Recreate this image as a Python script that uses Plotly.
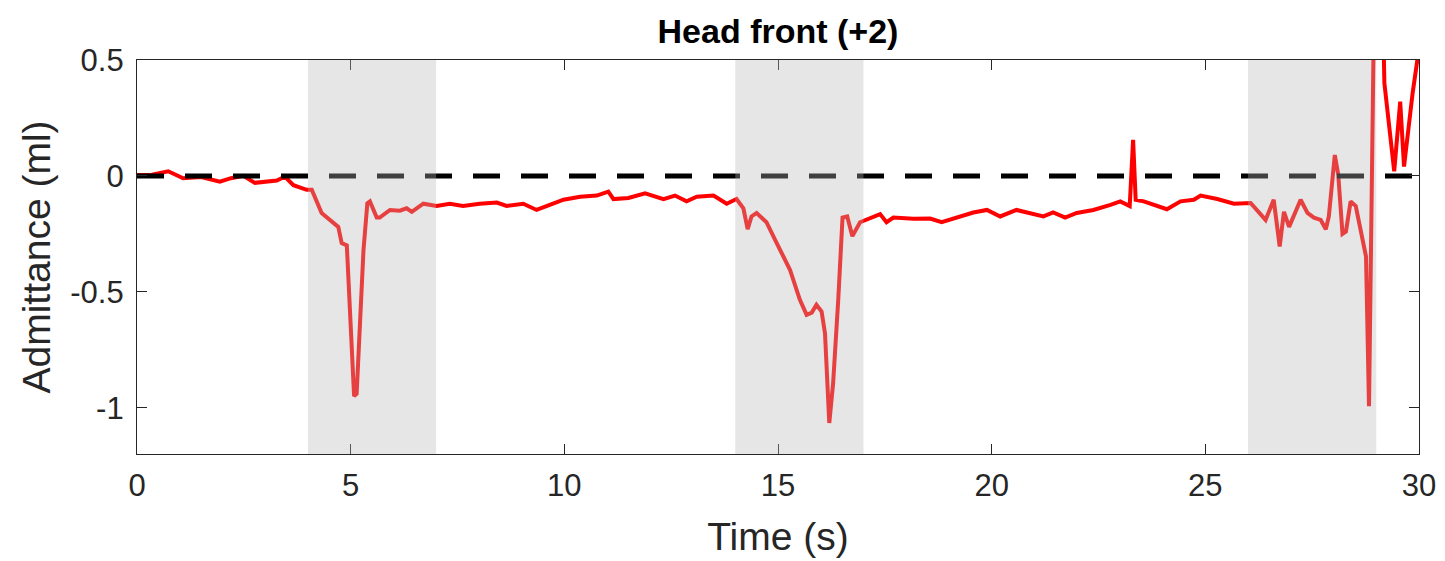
import plotly.graph_objects as go

time_s = [0, 0.35, 0.73, 1.08, 1.5, 1.94, 2.2, 2.49, 2.76, 3.0,
          3.27, 3.46, 3.66, 3.97, 4.09, 4.32, 4.52, 4.71, 4.79, 4.91,
          5.08, 5.14, 5.30, 5.39, 5.45, 5.61, 5.68, 5.92, 6.15, 6.31,
          6.43, 6.70, 7.01, 7.32, 7.63, 8.02, 8.42, 8.65, 9.04, 9.35,
          9.66, 9.98, 10.37, 10.76, 11.03, 11.15, 11.50, 11.89, 12.32, 12.59,
          12.86, 13.10, 13.49, 13.80, 14.03, 14.19, 14.29, 14.38, 14.50, 14.73,
          14.97, 15.28, 15.51, 15.67, 15.79, 15.90, 16.02, 16.10, 16.20, 16.29,
          16.41, 16.51, 16.62, 16.74, 16.92, 17.23, 17.39, 17.54, 17.70, 18.17,
          18.56, 18.83, 19.10, 19.57, 19.89, 20.20, 20.58, 21.21, 21.44, 21.72,
          21.99, 22.38, 22.78, 23.01, 23.23, 23.31, 23.37, 23.56, 24.10, 24.42,
          24.73, 24.89, 25.28, 25.67, 26.06, 26.21, 26.41, 26.60, 26.74, 26.84,
          26.96, 27.23, 27.39, 27.54, 27.70, 27.82, 27.89, 28.03, 28.11, 28.21,
          28.29, 28.40, 28.52, 28.76, 28.83, 28.95, 29.15, 29.19, 29.42, 29.56,
          29.65, 29.85, 30.0]

admittance = [0.004, 0.005, 0.02, -0.01, -0.005, -0.025, -0.01, 0.0, -0.03, -0.025,
              -0.02, -0.003, -0.04, -0.06, -0.06, -0.16, -0.19, -0.22, -0.29, -0.30,
              -0.95, -0.94, -0.32, -0.118, -0.11, -0.18, -0.18, -0.147, -0.15, -0.14,
              -0.155, -0.12, -0.13, -0.12, -0.13, -0.12, -0.115, -0.13, -0.12, -0.147,
              -0.125, -0.103, -0.09, -0.085, -0.068, -0.1, -0.095, -0.075, -0.1, -0.085,
              -0.11, -0.09, -0.085, -0.12, -0.1, -0.14, -0.23, -0.175, -0.16, -0.20,
              -0.29, -0.405, -0.534, -0.60, -0.59, -0.556, -0.585, -0.68, -1.066, -0.894,
              -0.534, -0.18, -0.175, -0.26, -0.20, -0.175, -0.165, -0.20, -0.18, -0.185,
              -0.184, -0.20, -0.184, -0.158, -0.147, -0.175, -0.147, -0.175, -0.158, -0.18,
              -0.16, -0.147, -0.125, -0.11, -0.13, 0.155, -0.103, -0.11, -0.144, -0.11,
              -0.103, -0.085, -0.1, -0.12, -0.117, -0.147, -0.19, -0.103, -0.305, -0.155,
              -0.22, -0.103, -0.16, -0.18, -0.19, -0.23, -0.175, 0.09, 0.006, -0.25,
              -0.24, -0.11, -0.13, -0.348, -0.994, 0.75, 0.75, 0.40, 0.02, 0.32,
              0.04, 0.356, 0.55]

baseline_x = [0, 30]
baseline_y = [0, 0]

stim_start = [4, 14, 26]
stim_end = [7, 17, 29]

x_ticks = [0, 5, 10, 15, 20, 25, 30]
y_ticks = [-1, -0.5, 0, 0.5]
y_tick_labels = ["-1", "-0.5", "0", "0.5"]

FONT = "Liberation Sans, Arial, Helvetica, sans-serif"
AX = "#262626"

fig = go.Figure()
fig.add_trace(go.Scatter(x=time_s, y=admittance, mode="lines",
                         line=dict(color="#ff0000", width=4), showlegend=False))
fig.add_trace(go.Scatter(x=baseline_x, y=baseline_y, mode="lines",
                         line=dict(color="#000000", width=5, dash="27px,21px"),
                         showlegend=False))

for s, e in zip(stim_start, stim_end):
    fig.add_shape(type="rect", xref="x", yref="y", x0=s, x1=e, y0=-1.2, y1=0.5,
                  fillcolor="rgba(183,183,183,0.35)", line=dict(width=0),
                  layer="above")

fig.update_layout(
    width=1445, height=561,
    margin=dict(l=129, r=34, t=52, b=115),
    plot_bgcolor="white", paper_bgcolor="white",
    font=dict(family=FONT, color=AX),
    title=dict(text="<b>Head front (+2)</b>", x=0.5, xref="paper",
               y=1, yref="paper", yanchor="bottom", pad=dict(b=17),
               font=dict(size=34, color="#000000", family=FONT)),
    xaxis=dict(range=[0, 30], tickvals=x_ticks, ticks="inside", ticklen=10,
               tickwidth=1, tickcolor=AX, showline=True, linecolor=AX,
               linewidth=1.2, mirror="ticks", showgrid=False, zeroline=False,
               ticklabelstandoff=4,
               tickfont=dict(size=31, color=AX),
               title=dict(text="Time (s)", font=dict(size=39, color=AX), standoff=20)),
    yaxis=dict(range=[-1.2, 0.5], tickvals=y_ticks, ticktext=y_tick_labels,
               ticks="inside", ticklen=10, tickwidth=1, tickcolor=AX,
               showline=True, linecolor=AX, linewidth=1.2, mirror="ticks",
               showgrid=False, zeroline=False, ticklabelstandoff=6,
               tickfont=dict(size=31, color=AX),
               title=dict(text="Admittance (ml)", font=dict(size=39, color=AX), standoff=7)),
)

fig.write_html("out.html")
